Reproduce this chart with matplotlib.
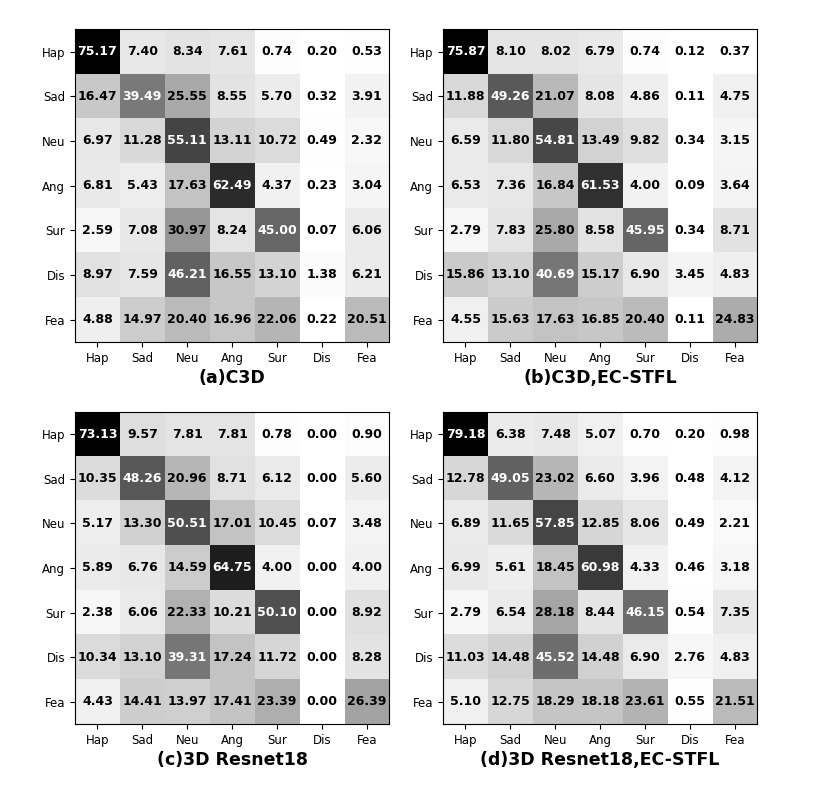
import numpy as np
import matplotlib
matplotlib.use("Agg")
import matplotlib.pyplot as plt

labels = ["Hap", "Sad", "Neu", "Ang", "Sur", "Dis", "Fea"]

cm_c3d = [
    [75.17, 7.40, 8.34, 7.61, 0.74, 0.20, 0.53],
    [16.47, 39.49, 25.55, 8.55, 5.70, 0.32, 3.91],
    [6.97, 11.28, 55.11, 13.11, 10.72, 0.49, 2.32],
    [6.81, 5.43, 17.63, 62.49, 4.37, 0.23, 3.04],
    [2.59, 7.08, 30.97, 8.24, 45.00, 0.07, 6.06],
    [8.97, 7.59, 46.21, 16.55, 13.10, 1.38, 6.21],
    [4.88, 14.97, 20.40, 16.96, 22.06, 0.22, 20.51],
]
cm_c3d_ec = [
    [75.87, 8.10, 8.02, 6.79, 0.74, 0.12, 0.37],
    [11.88, 49.26, 21.07, 8.08, 4.86, 0.11, 4.75],
    [6.59, 11.80, 54.81, 13.49, 9.82, 0.34, 3.15],
    [6.53, 7.36, 16.84, 61.53, 4.00, 0.09, 3.64],
    [2.79, 7.83, 25.80, 8.58, 45.95, 0.34, 8.71],
    [15.86, 13.10, 40.69, 15.17, 6.90, 3.45, 4.83],
    [4.55, 15.63, 17.63, 16.85, 20.40, 0.11, 24.83],
]
cm_res = [
    [73.13, 9.57, 7.81, 7.81, 0.78, 0.00, 0.90],
    [10.35, 48.26, 20.96, 8.71, 6.12, 0.00, 5.60],
    [5.17, 13.30, 50.51, 17.01, 10.45, 0.07, 3.48],
    [5.89, 6.76, 14.59, 64.75, 4.00, 0.00, 4.00],
    [2.38, 6.06, 22.33, 10.21, 50.10, 0.00, 8.92],
    [10.34, 13.10, 39.31, 17.24, 11.72, 0.00, 8.28],
    [4.43, 14.41, 13.97, 17.41, 23.39, 0.00, 26.39],
]
cm_res_ec = [
    [79.18, 6.38, 7.48, 5.07, 0.70, 0.20, 0.98],
    [12.78, 49.05, 23.02, 6.60, 3.96, 0.48, 4.12],
    [6.89, 11.65, 57.85, 12.85, 8.06, 0.49, 2.21],
    [6.99, 5.61, 18.45, 60.98, 4.33, 0.46, 3.18],
    [2.79, 6.54, 28.18, 8.44, 46.15, 0.54, 7.35],
    [11.03, 14.48, 45.52, 14.48, 6.90, 2.76, 4.83],
    [5.10, 12.75, 18.29, 18.18, 23.61, 0.55, 21.51],
]
titles = ["(a)C3D", "(b)C3D,EC-STFL", "(c)3D Resnet18", "(d)3D Resnet18,EC-STFL"]
mats = [cm_c3d, cm_c3d_ec, cm_res, cm_res_ec]

fig = plt.figure(figsize=(8.31, 7.88), dpi=100)
boxes = [
    [0.0903, 0.566, 0.378, 0.397],
    [0.5331, 0.566, 0.378, 0.397],
    [0.0903, 0.0812, 0.378, 0.396],
    [0.5331, 0.0812, 0.378, 0.396],
]

for box, m, t in zip(boxes, mats, titles):
    ax = fig.add_axes(box)
    m = np.array(m)
    ax.imshow(m, cmap="gray_r", interpolation="nearest", aspect="auto")
    thresh = m.max() / 2.0
    for i in range(m.shape[0]):
        for j in range(m.shape[1]):
            ax.text(j, i, "%.2f" % m[i, j], ha="center", va="center",
                    fontsize=9, fontweight="bold",
                    color="white" if m[i, j] > thresh else "black")
    ax.set_xticks(range(len(labels)))
    ax.set_yticks(range(len(labels)))
    ax.set_xticklabels(labels, fontsize=8.5)
    ax.set_yticklabels(labels, fontsize=8.5)
    ax.set_xlabel(t, fontsize=12.5, fontweight="bold", labelpad=3)

plt.savefig("out.png", dpi=100)
